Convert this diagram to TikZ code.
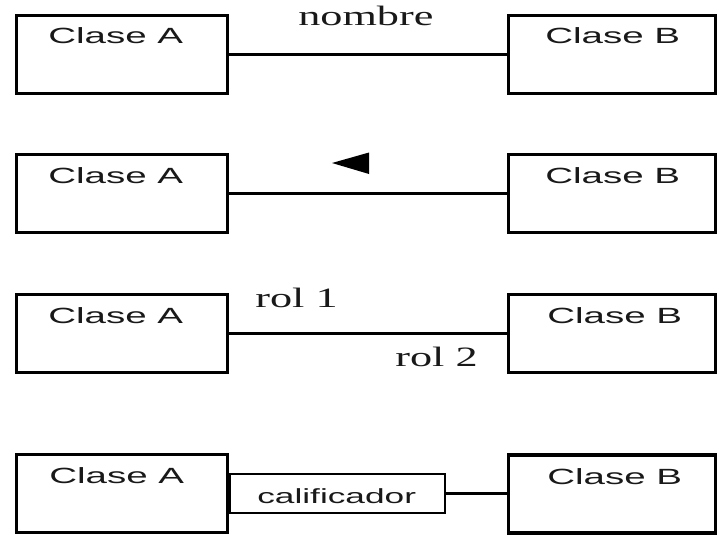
\documentclass[tikz,border=0pt]{standalone}
\usepackage{graphicx}
\usepackage{fontspec}
\setmainfont{Liberation Serif}
\newfontfamily\arialf{Liberation Sans}
\begin{document}
\begin{tikzpicture}[x=1pt,y=-1pt,
  boxa/.style={draw=black, line width=3.5pt, rectangle, minimum width=211pt, minimum height=78pt, inner sep=0pt},
  boxb/.style={draw=black, line width=3.5pt, rectangle, minimum width=207pt, minimum height=78pt, inner sep=0pt},
  qual/.style={draw=black, line width=1.8pt, rectangle, minimum width=215pt, minimum height=39pt, inner sep=0pt, anchor=west},
  conn/.style={draw=black, line width=2.4pt},
  clase/.style={anchor=base west, inner sep=0pt, text=black!90, xscale=1.75, font=\arialf\fontsize{22}{22}\selectfont},
  qtext/.style={anchor=base west, inner sep=0pt, text=black!90, xscale=1.72, font=\arialf\fontsize{20.5}{20.5}\selectfont},
  lbl/.style={anchor=base west, inner sep=0pt, text=black!90, xscale=1.58, font=\fontsize{28}{28}\selectfont}
]
\useasboundingbox (0,0) rectangle (719,536);
% row 1
\node[boxa] (A1) at (122,54.5) {};
\node[boxb] (B1) at (612,54.5) {};
\node[clase] (tA1) at (48,43) {Clase A};
\node[clase] (tB1) at (545,43) {Clase B};
\draw[conn] (A1.east) -- (B1.west);
\node[lbl] (n1) at (298,25) {nombre};
% row 2
\node[boxa] (A2) at (122,193.5) {};
\node[boxb] (B2) at (612,193.5) {};
\node[clase] (tA2) at (48,183) {Clase A};
\node[clase] (tB2) at (545,183) {Clase B};
\draw[conn] (A2.east) -- (B2.west);
\fill[black] (332,163) -- (369,152.5) -- (369,174) -- cycle;
% row 3
\node[boxa] (A3) at (122,333.5) {};
\node[boxb] (B3) at (612,333.5) {};
\node[clase] (tA3) at (48,323) {Clase A};
\node[clase] (tB3) at (547,323) {Clase B};
\draw[conn] (A3.east) -- (B3.west);
\node[lbl] (r1) at (255,307) {rol 1};
\node[lbl] (r2) at (395,366) {rol 2};
% row 4
\node[boxa] (A4) at (122,493.5) {};
\node[boxb] (B4) at (612,494) {};
\node[clase] (tA4) at (49,483) {Clase A};
\node[clase] (tB4) at (547,484) {Clase B};
\node[qual] (Q) at (A4.east) {};
\node[qtext] (tQ) at (257,503) {calificador};
\draw[conn] (Q.east) -- (Q.east -| B4.west);
\end{tikzpicture}
\end{document}
